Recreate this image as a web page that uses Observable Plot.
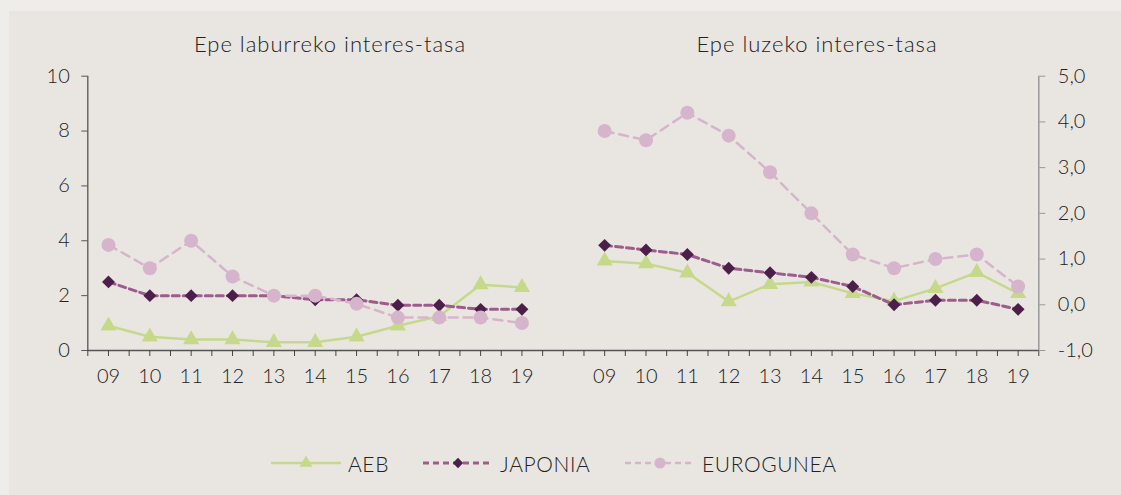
<!DOCTYPE html>
<html>
<head>
<meta charset="utf-8">
<script src="https://cdn.jsdelivr.net/npm/d3@7"></script>
<script src="https://cdn.jsdelivr.net/npm/@observablehq/plot@0.6"></script>
<style>
  html, body { margin: 0; padding: 0; }
  body { width: 1121px; height: 495px; background: #efede9; position: relative; overflow: hidden;
         font-family: Lato, "Open Sans", sans-serif; font-weight: 300; color: #222; }
  #panel { position: absolute; left: 9px; top: 11px; right: 0; bottom: 0; background: #e9e6e1; }
  .layer { position: absolute; left: 0; top: 0; }
  .title { position: absolute; top: 33px; font-size: 22px; letter-spacing: 1px; transform: translateX(-50%); white-space: nowrap; line-height: 1; }
  .leg { position: absolute; top: 452px; height: 22px; display: flex; align-items: center; font-size: 21px; letter-spacing: 0.6px; line-height: 1; }
  .leg svg { margin-right: 7px; }
</style>
</head>
<body>
<div id="panel"></div>
<div class="title" style="left:330px">Epe laburreko interes-tasa</div>
<div class="title" style="left:817px">Epe luzeko interes-tasa</div>
<div id="p1" class="layer"></div>
<div id="p2" class="layer"></div>
<div id="legend"></div>
<script>
// ---- data ----
const years = ["09","10","11","12","13","14","15","16","17","18","19"];
const seriesNames = ["AEB","JAPONIA","EUROGUNEA"];
// short-term interest rate (left axis, 0..10)
const shortAEB = [0.9, 0.5, 0.4, 0.4, 0.3, 0.3, 0.5, 0.9, 1.25, 2.4, 2.3];
const shortJAP = [2.5, 2.0, 2.0, 2.0, 2.0, 1.85, 1.85, 1.65, 1.65, 1.5, 1.5];
const shortEUR = [3.85, 3.0, 4.0, 2.7, 2.0, 2.0, 1.7, 1.2, 1.2, 1.2, 1.0];
// long-term interest rate (right axis, -1..5)
const longAEB = [0.96, 0.9, 0.7, 0.07, 0.45, 0.5, 0.25, 0.08, 0.36, 0.71, 0.25];
const longJAP = [1.3, 1.2, 1.1, 0.8, 0.7, 0.6, 0.4, 0.0, 0.1, 0.1, -0.1];
const longEUR = [3.8, 3.6, 4.2, 3.7, 2.9, 2.0, 1.1, 0.8, 1.0, 1.1, 0.4];
const leftTicks = [0, 2, 4, 6, 8, 10];
const rightTicks = [-1, 0, 1, 2, 3, 4, 5];

// ---- styling ----
const colors = { AEB: "#c6d98b", JAPONIA: "#9d5c8c", EUROGUNEA: "#d6b5cc" };
const markFill = { AEB: "#c6d98b", JAPONIA: "#4b1f4a", EUROGUNEA: "#d6b5cc" };
const symbols = { AEB: "triangle", JAPONIA: "diamond2", EUROGUNEA: "circle" };
const radii = { AEB: 6, JAPONIA: 5.8, EUROGUNEA: 7 };
const dashes = { AEB: null, JAPONIA: "7,4", EUROGUNEA: "9,6" };
const widths = { AEB: 2.5, JAPONIA: 3, EUROGUNEA: 2.5 };

const nSlots = 23;          // 11 years + 1 gap + 11 years
const rightOffset = 12;

function rows(values, offset, name) {
  return values.map((v, i) => ({ x: offset + i + 0.5, y: v, year: years[i], s: name }));
}
const shortData = { AEB: rows(shortAEB, 0, "AEB"), JAPONIA: rows(shortJAP, 0, "JAPONIA"), EUROGUNEA: rows(shortEUR, 0, "EUROGUNEA") };
const longData = { AEB: rows(longAEB, rightOffset, "AEB"), JAPONIA: rows(longJAP, rightOffset, "JAPONIA"), EUROGUNEA: rows(longEUR, rightOffset, "EUROGUNEA") };

function seriesMarks(dataBy) {
  const marks = [];
  for (const s of seriesNames) {
    marks.push(Plot.line(dataBy[s], { x: "x", y: "y", stroke: colors[s], strokeWidth: widths[s], strokeDasharray: dashes[s] }));
    marks.push(Plot.dot(dataBy[s], { x: "x", y: "y", symbol: () => symbols[s], r: radii[s], fill: markFill[s], stroke: "none" }));
  }
  return marks;
}

const common = {
  width: 1121, height: 400,
  marginLeft: 87.3, marginRight: 82.7, marginTop: 75.7, marginBottom: 50,
  style: { background: "transparent", fontFamily: "Lato, 'Open Sans', sans-serif", fontWeight: 300, fontSize: "20px", color: "#222", overflow: "visible" },
  x: { domain: [0, nSlots], label: null, axis: null },
};

const centers = [...years.map((_, i) => i + 0.5), ...years.map((_, i) => rightOffset + i + 0.5)];
const labelOf = new Map(centers.map((c, i) => [c, years[i % years.length]]));
const halfTicks = d3.range(0, nSlots + 0.01, 0.5);

const plot1 = Plot.plot({
  ...common,
  y: { domain: [0, 10], label: null, axis: null },
  marks: [
    Plot.ruleX([0], { stroke: "#555", strokeWidth: 1.3 }),
    Plot.axisY({ ticks: leftTicks, anchor: "left", tickSize: 6, tickPadding: 12, stroke: "#555", fill: "#222", fontSize: 20, label: null }),
    Plot.ruleY([0], { stroke: "#555", strokeWidth: 1.3 }),
    Plot.axisX({ ticks: halfTicks, tickSize: 6, tickFormat: () => "", stroke: "#444", label: null }),
    Plot.axisX({ ticks: centers, tickSize: 0, tickPadding: 18, tickFormat: d => labelOf.get(d), fill: "#222", fontSize: 20, label: null }),
    ...seriesMarks(shortData)
  ]
});
document.getElementById("p1").appendChild(plot1);

const plot2 = Plot.plot({
  ...common,
  y: { domain: [-1, 5], label: null, axis: null },
  marks: [
    Plot.ruleX([nSlots], { stroke: "#999", strokeWidth: 1.5 }),
    Plot.axisY({ ticks: rightTicks, anchor: "right", tickSize: 6, tickPadding: 13, stroke: "#999", fill: "#222", fontSize: 20, label: null,
                 tickFormat: d => d.toFixed(1).replace(".", ",") }),
    ...seriesMarks(longData)
  ]
});
document.getElementById("p2").appendChild(plot2);

// ---- legend ----
const legendPos = { AEB: 271, JAPONIA: 423, EUROGUNEA: 625 };
const legend = document.getElementById("legend");
for (const s of seriesNames) {
  const item = document.createElement("div");
  item.className = "leg";
  item.style.left = legendPos[s] + "px";
  const sw = d3.create("svg").attr("width", 70).attr("height", 22);
  sw.append("line").attr("x1", 0).attr("x2", 70).attr("y1", 11).attr("y2", 11)
    .attr("stroke", colors[s]).attr("stroke-width", widths[s]).attr("stroke-dasharray", dashes[s] ? "6,4" : null);
  const symType = { triangle: d3.symbolTriangle, diamond2: d3.symbolDiamond2, circle: d3.symbolCircle }[symbols[s]];
  const r = radii[s] * 0.8;
  sw.append("path").attr("transform", "translate(35,11)").attr("d", d3.symbol(symType, Math.PI * r * r)()).attr("fill", markFill[s]);
  item.appendChild(sw.node());
  const t = document.createElement("span");
  t.textContent = s;
  item.appendChild(t);
  legend.appendChild(item);
}
</script>
</body>
</html>
